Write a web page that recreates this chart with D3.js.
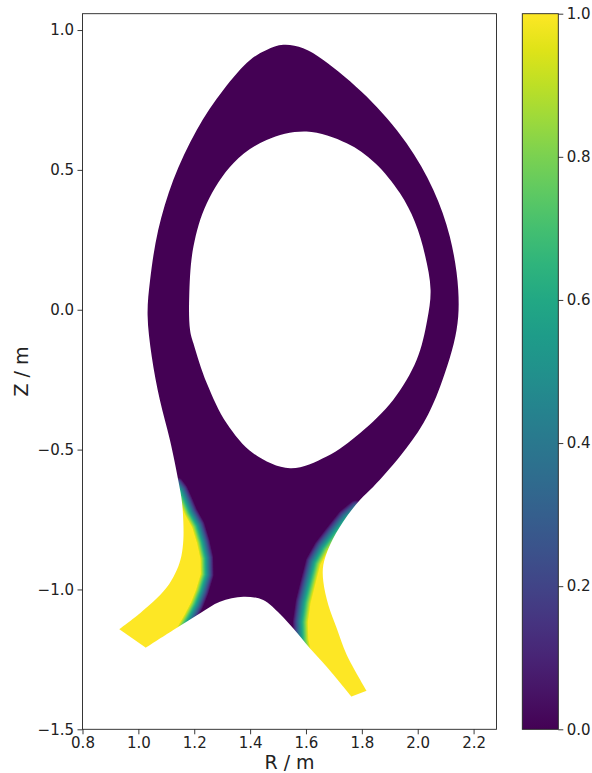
<!DOCTYPE html>
<html>
<head>
<meta charset="utf-8">
<script src="https://cdn.jsdelivr.net/npm/d3@7"></script>
<style>
  html, body { margin: 0; padding: 0; background: #fff; }
  svg { display: block; font-family: "DejaVu Sans", sans-serif; }
</style>
</head>
<body>
<svg id="fig" width="592" height="773"></svg>
<script>
// ---- Domain geometry, (R, Z) in metres ----
// Outer wall: from the inner divertor tip, up the high-field side,
// over the top, down the low-field side to the outer divertor tip.
const outerWall = [
  [0.932,-1.142],[1.006,-1.085],[1.067,-1.031],[1.110,-0.981],[1.138,-0.930],
  [1.154,-0.880],[1.161,-0.823],[1.161,-0.759],[1.156,-0.687],[1.144,-0.616],
  [1.113,-0.466],[1.077,-0.323],[1.048,-0.168],[1.033,-0.019],[1.042,0.106],
  [1.071,0.285],[1.125,0.464],[1.209,0.643],[1.304,0.786],[1.400,0.893],
  [1.459,0.929],[1.519,0.947],[1.590,0.935],[1.662,0.893],[1.817,0.762],
  [1.960,0.595],[2.056,0.428],[2.115,0.261],[2.145,0.071],[2.139,-0.072],
  [2.080,-0.275],[2.020,-0.406],[1.936,-0.525],[1.841,-0.633],[1.793,-0.680],
  [1.733,-0.758],[1.686,-0.841],[1.662,-0.913],[1.662,-0.972],[1.680,-1.056],
  [1.710,-1.139],[1.746,-1.234],[1.817,-1.362]
];
// Private-flux boundary: outer target back to inner target
const privateWall = [
  [1.763,-1.383],[1.674,-1.276],[1.614,-1.210],[1.554,-1.139],[1.507,-1.088],
  [1.447,-1.038],[1.376,-1.026],[1.292,-1.044],[1.221,-1.085],[1.125,-1.145],
  [1.027,-1.208]
];
// Core boundary (hole in the domain)
const coreEdge = [
  [1.602,0.637],[1.459,0.607],[1.340,0.524],[1.245,0.381],[1.197,0.225],
  [1.182,0.047],[1.185,-0.072],[1.197,-0.120],[1.245,-0.263],[1.316,-0.406],
  [1.411,-0.513],[1.543,-0.567],[1.674,-0.525],[1.793,-0.442],[1.912,-0.323],
  [1.996,-0.180],[2.034,-0.037],[2.046,0.071],[2.026,0.196],[1.990,0.314],
  [1.936,0.417],[1.847,0.525],[1.746,0.595]
];

// ---- Field: half-level fronts in each divertor leg ----
const innerFront = [
  [1.138,-0.623],[1.154,-0.644],[1.170,-0.680],[1.188,-0.723],[1.214,-0.770],
  [1.232,-0.829],[1.245,-0.888],[1.246,-0.948],[1.228,-1.008],[1.209,-1.056],
  [1.185,-1.102],[1.160,-1.145]
];
const innerFrontHigh = [[0.934,-1.395],[0.827,-1.109],[1.042,-0.573]];
const outerFront = [
  [1.779,-0.709],[1.740,-0.741],[1.697,-0.795],[1.656,-0.848],[1.626,-0.902],
  [1.608,-0.973],[1.590,-1.045],[1.580,-1.116],[1.582,-1.181],[1.593,-1.234]
];
const outerFrontHigh = [[1.686,-1.467],[2.008,-1.467],[1.936,-0.680]];
const frontHalfWidth = [0.024, 0.028];

// ---- Axis ticks ----
const xTicks = [0.8, 1.0, 1.2, 1.4, 1.6, 1.8, 2.0, 2.2];
const yTicks = [-1.5, -1.0, -0.5, 0.0, 0.5, 1.0];
const cTicks = [0.0, 0.2, 0.4, 0.6, 0.8, 1.0];
const xDomain = [0.8, 2.282];
const yDomain = [-1.5, 1.0584];
const cDomain = [0, 1];

// ---- Layout ----
const plot = {left: 82.5, right: 496.5, top: 13.7, bottom: 729.3};
const cbar = {left: 522.3, right: 558.3};
const ink = "#222";

const svg = d3.select("#fig");
const x = d3.scaleLinear().domain(xDomain).range([plot.left, plot.right]);
const y = d3.scaleLinear().domain(yDomain).range([plot.bottom, plot.top]);
const cy = d3.scaleLinear().domain(cDomain).range([plot.bottom, plot.top]);

// ---- Rasterise the field ----
const fronts = [
  {line: innerFront, poly: innerFront.concat(innerFrontHigh), w: frontHalfWidth[0]},
  {line: outerFront, poly: outerFront.concat(outerFrontHigh), w: frontHalfWidth[1]}
];
function segDist(p, a, b) {
  const dx = b[0] - a[0], dy = b[1] - a[1];
  let t = ((p[0] - a[0]) * dx + (p[1] - a[1]) * dy) / (dx * dx + dy * dy);
  t = Math.max(0, Math.min(1, t));
  const ex = a[0] + t * dx - p[0], ey = a[1] + t * dy - p[1];
  return Math.sqrt(ex * ex + ey * ey);
}
function fieldAt(p) {
  let v = 0;
  for (const f of fronts) {
    let d = Infinity;
    for (let k = 0; k < f.line.length - 1; k++) d = Math.min(d, segDist(p, f.line[k], f.line[k + 1]));
    const s = d3.polygonContains(f.poly, p) ? 1 : -1;
    v = Math.max(v, 0.5 + 0.5 * s * Math.min(d / f.w, 1));
  }
  return v;
}
const lut = d3.range(256).map(k => d3.rgb(d3.interpolateViridis(k / 255)));
const ix0 = Math.floor(plot.left), iy0 = Math.floor(plot.top);
const iw = Math.ceil(plot.right) - ix0, ih = Math.ceil(plot.bottom) - iy0;
const canvas = document.createElement("canvas");
canvas.width = iw; canvas.height = ih;
const ctx = canvas.getContext("2d");
const img = ctx.createImageData(iw, ih);
for (let j = 0; j < ih; j++) {
  const Z = y.invert(iy0 + j + 0.5);
  for (let i = 0; i < iw; i++) {
    const R = x.invert(ix0 + i + 0.5);
    const v = Z < -0.5 ? fieldAt([R, Z]) : 0;
    const c = lut[Math.round(v * 255)];
    const o = 4 * (j * iw + i);
    img.data[o] = c.r; img.data[o + 1] = c.g; img.data[o + 2] = c.b; img.data[o + 3] = 255;
  }
}
ctx.putImageData(img, 0, 0);

// ---- Domain outline as a clip path ----
const smooth = d3.line().x(d => x(d[0])).y(d => y(d[1])).curve(d3.curveCatmullRom.alpha(0.5));
const smoothClosed = d3.line().x(d => x(d[0])).y(d => y(d[1])).curve(d3.curveCatmullRomClosed.alpha(0.5));
const domainPath = smooth(outerWall) + smooth(privateWall).replace(/^M/, "L") + "Z" + smoothClosed(coreEdge);

const defs = svg.append("defs");
defs.append("clipPath").attr("id", "domain-clip")
  .append("path").attr("d", domainPath).attr("clip-rule", "evenodd");

svg.append("g").attr("clip-path", "url(#domain-clip)")
  .append("image")
  .attr("x", ix0).attr("y", iy0).attr("width", iw).attr("height", ih)
  .attr("preserveAspectRatio", "none")
  .attr("href", canvas.toDataURL());

// ---- Axes ----
const fmt = d3.format(".1f");
function styleAxis(g) {
  g.select(".domain").remove();
  g.selectAll("line").attr("stroke", ink).attr("stroke-width", 0.9);
  g.selectAll("text").attr("font-size", 15).attr("fill", ink).attr("font-family", "DejaVu Sans, sans-serif");
}
svg.append("g").attr("transform", `translate(0,${plot.bottom})`)
  .call(d3.axisBottom(x).tickValues(xTicks).tickFormat(fmt).tickSize(5).tickPadding(3))
  .call(styleAxis);
svg.append("g").attr("transform", `translate(${plot.left},0)`)
  .call(d3.axisLeft(y).tickValues(yTicks).tickFormat(fmt).tickSize(5).tickPadding(3.5))
  .call(styleAxis);
svg.append("rect")
  .attr("x", plot.left).attr("y", plot.top)
  .attr("width", plot.right - plot.left).attr("height", plot.bottom - plot.top)
  .attr("fill", "none").attr("stroke", ink).attr("stroke-width", 0.9);

svg.append("text").attr("x", (plot.left + plot.right) / 2).attr("y", 769)
  .attr("text-anchor", "middle").attr("font-size", 19).attr("fill", ink).text("R / m");
svg.append("text").attr("transform", `translate(21,${(plot.top + plot.bottom) / 2}) rotate(-90)`)
  .attr("text-anchor", "middle").attr("dy", "0.35em").attr("font-size", 19).attr("fill", ink).text("Z / m");

// ---- Colour bar ----
const grad = defs.append("linearGradient").attr("id", "cbar-grad")
  .attr("x1", 0).attr("y1", 1).attr("x2", 0).attr("y2", 0);
d3.range(0, 1.0001, 0.05).forEach(t => {
  grad.append("stop").attr("offset", t).attr("stop-color", d3.interpolateViridis(t));
});
svg.append("rect")
  .attr("x", cbar.left).attr("y", plot.top)
  .attr("width", cbar.right - cbar.left).attr("height", plot.bottom - plot.top)
  .attr("fill", "url(#cbar-grad)").attr("stroke", ink).attr("stroke-width", 0.9);
svg.append("g").attr("transform", `translate(${cbar.right},0)`)
  .call(d3.axisRight(cy).tickValues(cTicks).tickFormat(fmt).tickSize(5).tickPadding(3.5))
  .call(styleAxis);
</script>
</body>
</html>
